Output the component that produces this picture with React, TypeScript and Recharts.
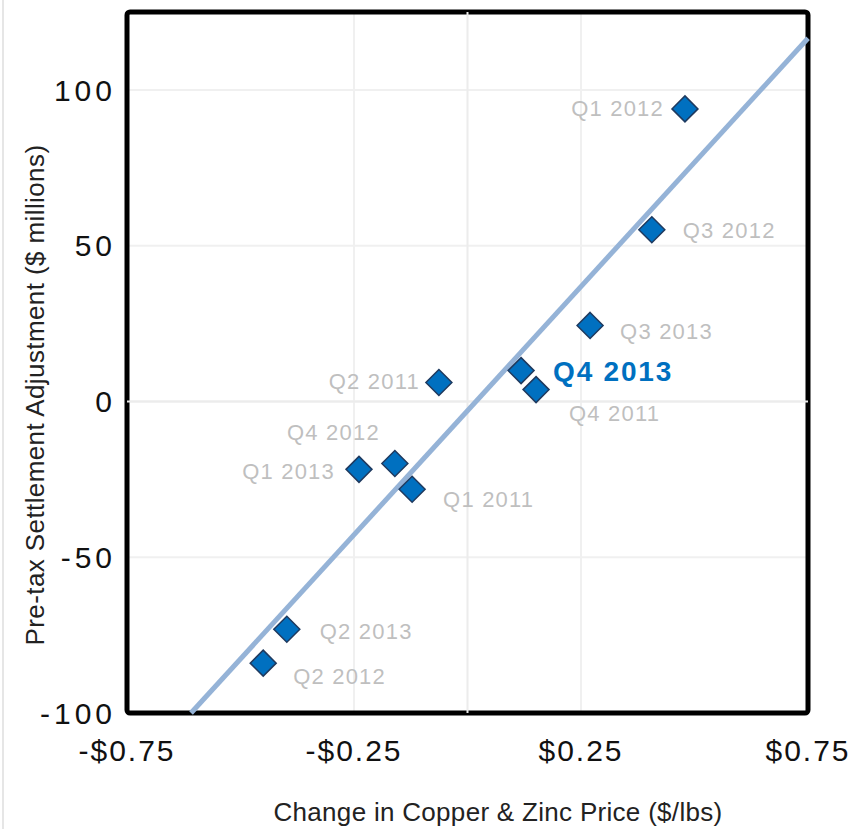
import React from "react";
import {
  ScatterChart,
  Scatter,
  XAxis,
  YAxis,
  CartesianGrid,
  ReferenceLine,
  ReferenceArea,
  LabelList,
  Label,
} from "recharts";

// values
const quarters = [
  "Q1 2012",
  "Q3 2012",
  "Q3 2013",
  "Q4 2013",
  "Q4 2011",
  "Q2 2011",
  "Q4 2012",
  "Q1 2013",
  "Q1 2011",
  "Q2 2013",
  "Q2 2012",
];
const priceChange = [0.479, 0.406, 0.27, 0.118, 0.151, -0.063, -0.16, -0.239, -0.122, -0.398, -0.45];
const adjustment = [93.9, 55.1, 24.4, 9.9, 3.8, 6.1, -19.9, -21.8, -28.2, -73.1, -84];
const highlight = "Q4 2013";

const xTicks = [-0.75, -0.25, 0.25, 0.75];
const yTicks = [-100, -50, 0, 50, 100];

const X_MIN = -0.75;
const X_MAX = 0.75;
const Y_MIN = -100;
const Y_MAX = 125;

const X_TITLE = "Change in Copper & Zinc Price ($/lbs)";
const Y_TITLE = "Pre-tax Settlement Adjustment ($ millions)";

// label placement around each point (layout only)
const labelPos: Record<string, { dx: number; dy: number; anchor: "start" | "end" }> = {
  "Q1 2012": { dx: -21, dy: 0, anchor: "end" },
  "Q3 2012": { dx: 31, dy: 1, anchor: "start" },
  "Q3 2013": { dx: 30, dy: 6, anchor: "start" },
  "Q4 2013": { dx: 32, dy: 1, anchor: "start" },
  "Q4 2011": { dx: 33, dy: 24, anchor: "start" },
  "Q2 2011": { dx: -19, dy: -1, anchor: "end" },
  "Q4 2012": { dx: -15, dy: -31, anchor: "end" },
  "Q1 2013": { dx: -24, dy: 2, anchor: "end" },
  "Q1 2011": { dx: 31, dy: 10, anchor: "start" },
  "Q2 2013": { dx: 33, dy: 2, anchor: "start" },
  "Q2 2012": { dx: 30, dy: 13, anchor: "start" },
};

const data = quarters.map((q, i) => ({ name: q, x: priceChange[i], y: adjustment[i] }));

// least-squares trend line, like Excel's linear trendline
const n = data.length;
const mx = priceChange.reduce((a, b) => a + b, 0) / n;
const my = adjustment.reduce((a, b) => a + b, 0) / n;
let sxy = 0;
let sxx = 0;
data.forEach((d) => {
  sxy += (d.x - mx) * (d.y - my);
  sxx += (d.x - mx) * (d.x - mx);
});
const slope = sxy / sxx;
const intercept = my - slope * mx;
const trendStart = { x: (Y_MIN - intercept) / slope, y: Y_MIN };
const trendEnd = { x: X_MAX, y: intercept + slope * X_MAX };

const FONT = "'Liberation Sans', Arial, sans-serif";

const fmtPrice = (v: number) => (v < 0 ? `-$${Math.abs(v).toFixed(2)}` : `$${v.toFixed(2)}`);

function Diamond(props: any) {
  const { cx, cy } = props;
  const r = 13;
  return (
    <path
      d={`M${cx},${cy - r} L${cx + r},${cy} L${cx},${cy + r} L${cx - r},${cy} Z`}
      fill="#0070c0"
      stroke="#1f3a5f"
      strokeWidth={1.5}
    />
  );
}

function PointLabel(props: any) {
  const { x, y, width, height, value } = props;
  const pos = labelPos[value];
  if (!pos) return null;
  const cx = x + width / 2;
  const cy = y + height / 2;
  const hl = value === highlight;
  return (
    <text
      x={cx + pos.dx}
      y={cy + pos.dy}
      textAnchor={pos.anchor}
      dominantBaseline="central"
      fontFamily={FONT}
      fontSize={hl ? 28 : 22}
      fontWeight={hl ? "bold" : "normal"}
      letterSpacing={hl ? 1.8 : 1.2}
      fill={hl ? "#0070c0" : "#bfbfbf"}
    >
      {value}
    </text>
  );
}

export default function App() {
  return (
    <div style={{ position: "absolute", left: 0, top: 0, width: 860, height: 829, background: "#fff" }}>
      <div style={{ position: "absolute", left: 2, top: 0, width: 2, height: 829, background: "#e6e6e6" }} />
      <ScatterChart width={860} height={829} margin={{ top: 12, right: 52, bottom: 0, left: 0 }}>
        <CartesianGrid stroke="#f0f0f0" strokeWidth={2} />
        <XAxis
          type="number"
          dataKey="x"
          domain={[X_MIN, X_MAX]}
          ticks={xTicks}
          tickFormatter={fmtPrice}
          axisLine={false}
          tickLine={false}
          tickMargin={21}
          height={116}
          tick={{ fontSize: 30, fill: "#111", fontFamily: FONT, letterSpacing: 2 }}
        >
          <Label
            content={() => (
              <text
                x={498}
                y={812}
                textAnchor="middle"
                dominantBaseline="central"
                fontSize={26}
                letterSpacing={0.3}
                fill="#222"
                fontFamily={FONT}
              >
                {X_TITLE}
              </text>
            )}
          />
        </XAxis>
        <YAxis
          type="number"
          dataKey="y"
          domain={[Y_MIN, Y_MAX]}
          ticks={yTicks}
          axisLine={false}
          tickLine={false}
          tickMargin={5}
          width={127}
          tick={{ fontSize: 30, fill: "#111", fontFamily: FONT, letterSpacing: 4 }}
        >
          <Label
            content={() => (
              <text
                transform="translate(35,395) rotate(-90)"
                textAnchor="middle"
                dominantBaseline="central"
                fontSize={26}
                letterSpacing={0.4}
                fill="#222"
                fontFamily={FONT}
              >
                {Y_TITLE}
              </text>
            )}
          />
        </YAxis>
        <ReferenceLine x={0} stroke="#ececec" strokeWidth={2} />
        <ReferenceLine y={0} stroke="#ececec" strokeWidth={2} />
        <ReferenceLine
          segment={[trendStart, trendEnd]}
          stroke="#95b3d7"
          strokeWidth={5}
        />
        <Scatter data={data} shape={<Diamond />} isAnimationActive={false}>
          <LabelList dataKey="name" content={<PointLabel />} />
        </Scatter>
        <ReferenceArea
          x1={X_MIN}
          x2={X_MAX}
          y1={Y_MIN}
          y2={Y_MAX}
          fill="none"
          stroke="#000"
          strokeWidth={5}
          radius={3}
        />
      </ScatterChart>
    </div>
  );
}
